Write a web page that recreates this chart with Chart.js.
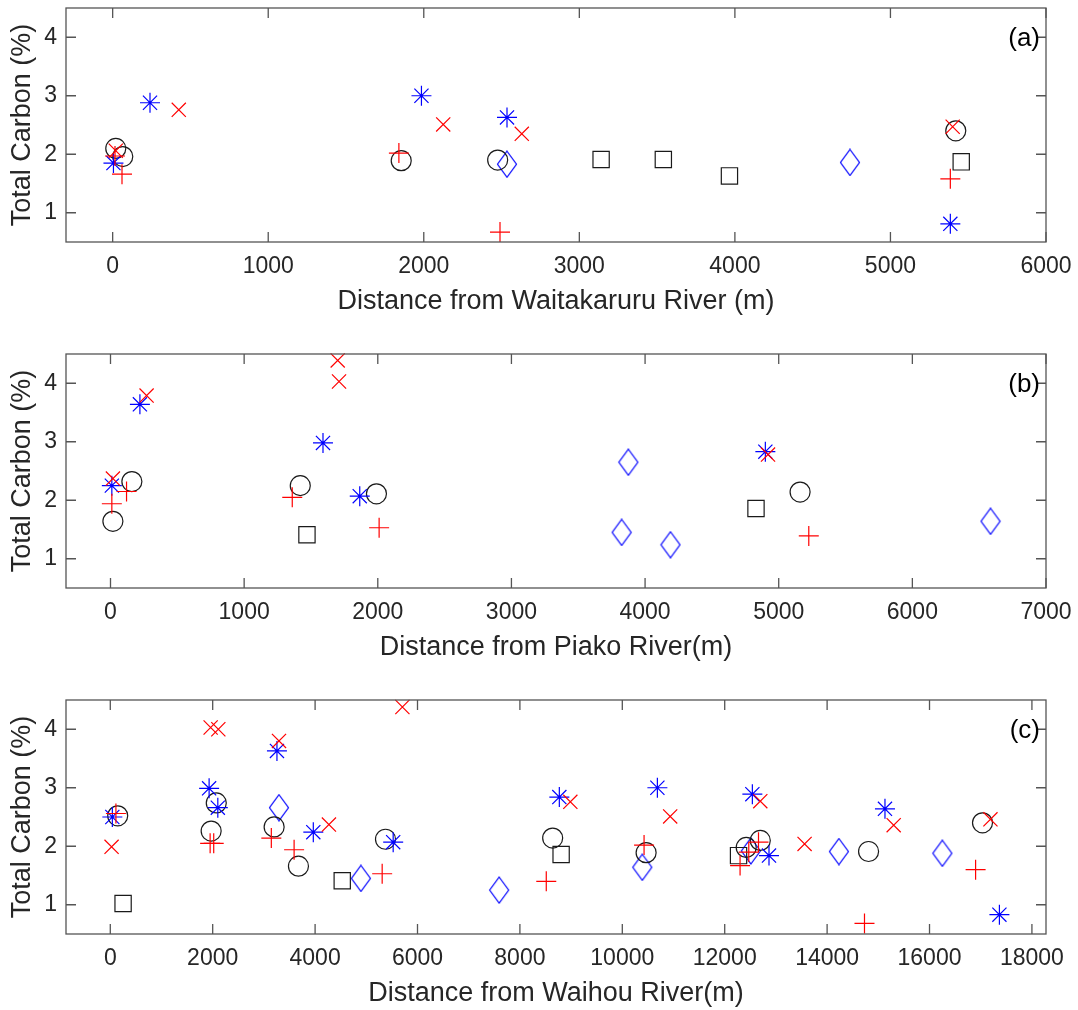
<!DOCTYPE html>
<html>
<head>
<meta charset="utf-8">
<title>Total Carbon vs distance from river</title>
<script src="https://cdn.jsdelivr.net/npm/chart.js@4.4.1/dist/chart.umd.min.js"></script>
<style>
  html, body { margin: 0; padding: 0; background: #fff; overflow: hidden; }
  .panel { position: absolute; left: 0; width: 1078px; height: 320px; }
</style>
</head>
<body>
<div class="panel" style="top:0"><canvas id="chart-a"></canvas></div>
<div class="panel" style="top:346px"><canvas id="chart-b"></canvas></div>
<div class="panel" style="top:692px"><canvas id="chart-c"></canvas></div>
<script>
// [distance (m), total carbon (%)] for each marker group

// (a) Waitakaruru River
var waitakaruruPlus = [[15, 1.97], [60, 1.66], [1840, 2.02], [2490, 0.67], [5385, 1.58]];
var waitakaruruCross = [[20, 2.06], [425, 2.76], [2125, 2.51], [2630, 2.35], [5400, 2.47]];
var waitakaruruStar = [[5, 1.85], [240, 2.88], [1985, 3.0], [2535, 2.63], [5385, 0.81]];
var waitakaruruCircle = [[20, 2.10], [65, 1.96], [1855, 1.89], [2475, 1.90], [5420, 2.40]];
var waitakaruruSquare = [[3140, 1.91], [3540, 1.91], [3965, 1.63], [5455, 1.87]];
var waitakaruruDiamond = [[2535, 1.83], [4740, 1.86]];

// (b) Piako River
var piakoPlus = [[10, 1.94], [120, 2.15], [1360, 2.05], [2010, 1.53], [5225, 1.39]];
var piakoCross = [[18, 2.37], [270, 3.79], [1700, 4.39], [1710, 4.03], [4920, 2.78]];
var piakoStar = [[10, 2.25], [220, 3.64], [1590, 2.98], [1865, 2.07], [4900, 2.83]];
var piakoCircle = [[18, 1.64], [160, 2.32], [1420, 2.25], [1990, 2.11], [5160, 2.14]];
var piakoSquare = [[1470, 1.41], [4830, 1.86]];
var piakoDiamond = [[3825, 1.45], [3875, 2.65], [4190, 1.24], [6585, 1.64]];

// (c) Waihou River
var waihouPlus = [[110, 2.56], [1950, 2.05], [2020, 2.05], [3145, 2.14], [3590, 1.94], [5310, 1.53],
  [8515, 1.40], [10425, 2.02], [12300, 1.67], [12470, 1.90], [12660, 2.07], [14730, 0.68], [16900, 1.60]];
var waihouCross = [[25, 1.99], [1960, 4.03], [2110, 4.0], [3295, 3.80], [4270, 2.37], [5705, 4.38],
  [8985, 2.76], [10935, 2.51], [12695, 2.77], [13560, 2.04], [15300, 2.36], [17190, 2.46]];
var waihouStar = [[40, 2.50], [1930, 2.99], [2100, 2.66], [3255, 3.63], [3965, 2.24], [5525, 2.07],
  [8770, 2.84], [10685, 3.0], [12540, 2.89], [12865, 1.84], [15130, 2.64], [17365, 0.83]];
var waihouCircle = [[145, 2.52], [1970, 2.26], [2070, 2.74], [3200, 2.33], [3675, 1.66], [5375, 2.12],
  [8640, 2.14], [10465, 1.89], [12420, 1.98], [12695, 2.10], [14810, 1.91], [17035, 2.40]];
var waihouSquare = [[250, 1.02], [4530, 1.41], [8805, 1.86], [12270, 1.84]];
var waihouDiamond = [[3295, 2.66], [4895, 1.45], [7595, 1.25], [10390, 1.64], [12510, 1.92], [14230, 1.91], [16250, 1.88]];

// axis ticks
var carbonTicks = [1, 2, 3, 4];
var waitakaruruTicks = [0, 1000, 2000, 3000, 4000, 5000, 6000];
var piakoTicks = [0, 1000, 2000, 3000, 4000, 5000, 6000, 7000];
var waihouTicks = [0, 2000, 4000, 6000, 8000, 10000, 12000, 14000, 16000, 18000];

var FONT = '"Liberation Sans", Arial, sans-serif';
var RED = '#ff0000';
var BLUE = '#0000ff';
var BLACK = '#1a1a1a';

function diamondMarker(color) {
  const c = document.createElement('canvas');
  c.width = 22;
  c.height = 28;
  const g = c.getContext('2d');
  g.strokeStyle = color;
  g.lineWidth = 1.2;
  g.beginPath();
  g.moveTo(11, 1);
  g.lineTo(20.5, 14);
  g.lineTo(11, 27);
  g.lineTo(1.5, 14);
  g.closePath();
  g.stroke();
  return c;
}

function markers(points, style, color, radius) {
  return {
    data: points.map(p => ({ x: p[0], y: p[1] })),
    pointStyle: style,
    pointRadius: radius,
    pointHoverRadius: radius,
    borderColor: color,
    backgroundColor: 'rgba(0,0,0,0)',
    pointBorderWidth: 1.2,
    borderWidth: 1.2,
    clip: false
  };
}

// box, inward ticks on all four sides and the panel letter
const frame = {
  id: 'frame',
  afterDraw(chart, args, opts) {
    const { ctx, chartArea: a, scales: { x, y } } = chart;
    ctx.save();
    ctx.strokeStyle = '#555555';
    ctx.lineWidth = 1.3;
    ctx.strokeRect(a.left, a.top, a.width, a.height);
    ctx.beginPath();
    x.ticks.forEach(t => {
      const px = x.getPixelForValue(t.value);
      ctx.moveTo(px, a.bottom); ctx.lineTo(px, a.bottom - 10);
      ctx.moveTo(px, a.top); ctx.lineTo(px, a.top + 10);
    });
    y.ticks.forEach(t => {
      const py = y.getPixelForValue(t.value);
      ctx.moveTo(a.left, py); ctx.lineTo(a.left + 10, py);
      ctx.moveTo(a.right, py); ctx.lineTo(a.right - 10, py);
    });
    ctx.stroke();
    ctx.fillStyle = '#000';
    ctx.font = '26px ' + FONT;
    ctx.textAlign = 'right';
    ctx.textBaseline = 'middle';
    ctx.fillText(opts.tag, a.right - 6, y.getPixelForValue(4) + 2);
    ctx.restore();
  }
};

function createChart(id, tag, xTitle, xMin, xMax, xTicks, sets) {
  return new Chart(document.getElementById(id), {
    type: 'scatter',
    data: {
      datasets: [
        markers(sets[0], 'cross', RED, 10),
        markers(sets[1], 'crossRot', RED, 10),
        markers(sets[2], 'star', BLUE, 10),
        markers(sets[3], 'circle', BLACK, 10),
        markers(sets[4], 'rect', BLACK, 11.5),
        markers(sets[5], diamondMarker(BLUE), BLUE, 12)
      ]
    },
    options: {
      responsive: true,
      maintainAspectRatio: false,
      animation: false,
      events: [],
      layout: {
        autoPadding: false,
        padding: { top: 8, right: 32, left: 0, bottom: 0 }
      },
      plugins: {
        legend: { display: false },
        tooltip: { enabled: false },
        frame: { tag: tag }
      },
      scales: {
        x: {
          type: 'linear',
          min: xMin,
          max: xMax,
          afterBuildTicks: s => { s.ticks = xTicks.map(v => ({ value: v })); },
          afterFit: s => {
            s.height = 78;
            s.paddingLeft = 0;
            s.paddingRight = 0;
          },
          grid: { display: false, drawTicks: false },
          border: { display: false },
          ticks: {
            padding: 11,
            color: '#262626',
            font: { family: FONT, size: 23 },
            callback: v => String(v)
          },
          title: {
            display: true,
            text: xTitle,
            color: '#262626',
            padding: { top: 0, bottom: 2 },
            font: { family: FONT, size: 27 }
          }
        },
        y: {
          min: 0.5,
          max: 4.5,
          afterBuildTicks: s => { s.ticks = carbonTicks.map(v => ({ value: v })); },
          afterFit: s => {
            s.width = 66;
            s.paddingTop = 0;
            s.paddingBottom = 0;
          },
          grid: { display: false, drawTicks: false },
          border: { display: false },
          ticks: { padding: 9, color: '#262626', font: { family: FONT, size: 23 } },
          title: {
            display: true,
            text: 'Total Carbon (%)',
            color: '#262626',
            padding: { top: 6, bottom: 0 },
            font: { family: FONT, size: 27 }
          }
        }
      }
    },
    plugins: [frame]
  });
}

createChart('chart-a', '(a)', 'Distance from Waitakaruru River (m)', -300, 6000, waitakaruruTicks,
  [waitakaruruPlus, waitakaruruCross, waitakaruruStar, waitakaruruCircle, waitakaruruSquare, waitakaruruDiamond]);
createChart('chart-b', '(b)', 'Distance from Piako River(m)', -333, 7000, piakoTicks,
  [piakoPlus, piakoCross, piakoStar, piakoCircle, piakoSquare, piakoDiamond]);
createChart('chart-c', '(c)', 'Distance from Waihou River(m)', -865, 18275, waihouTicks,
  [waihouPlus, waihouCross, waihouStar, waihouCircle, waihouSquare, waihouDiamond]);
</script>
</body>
</html>
